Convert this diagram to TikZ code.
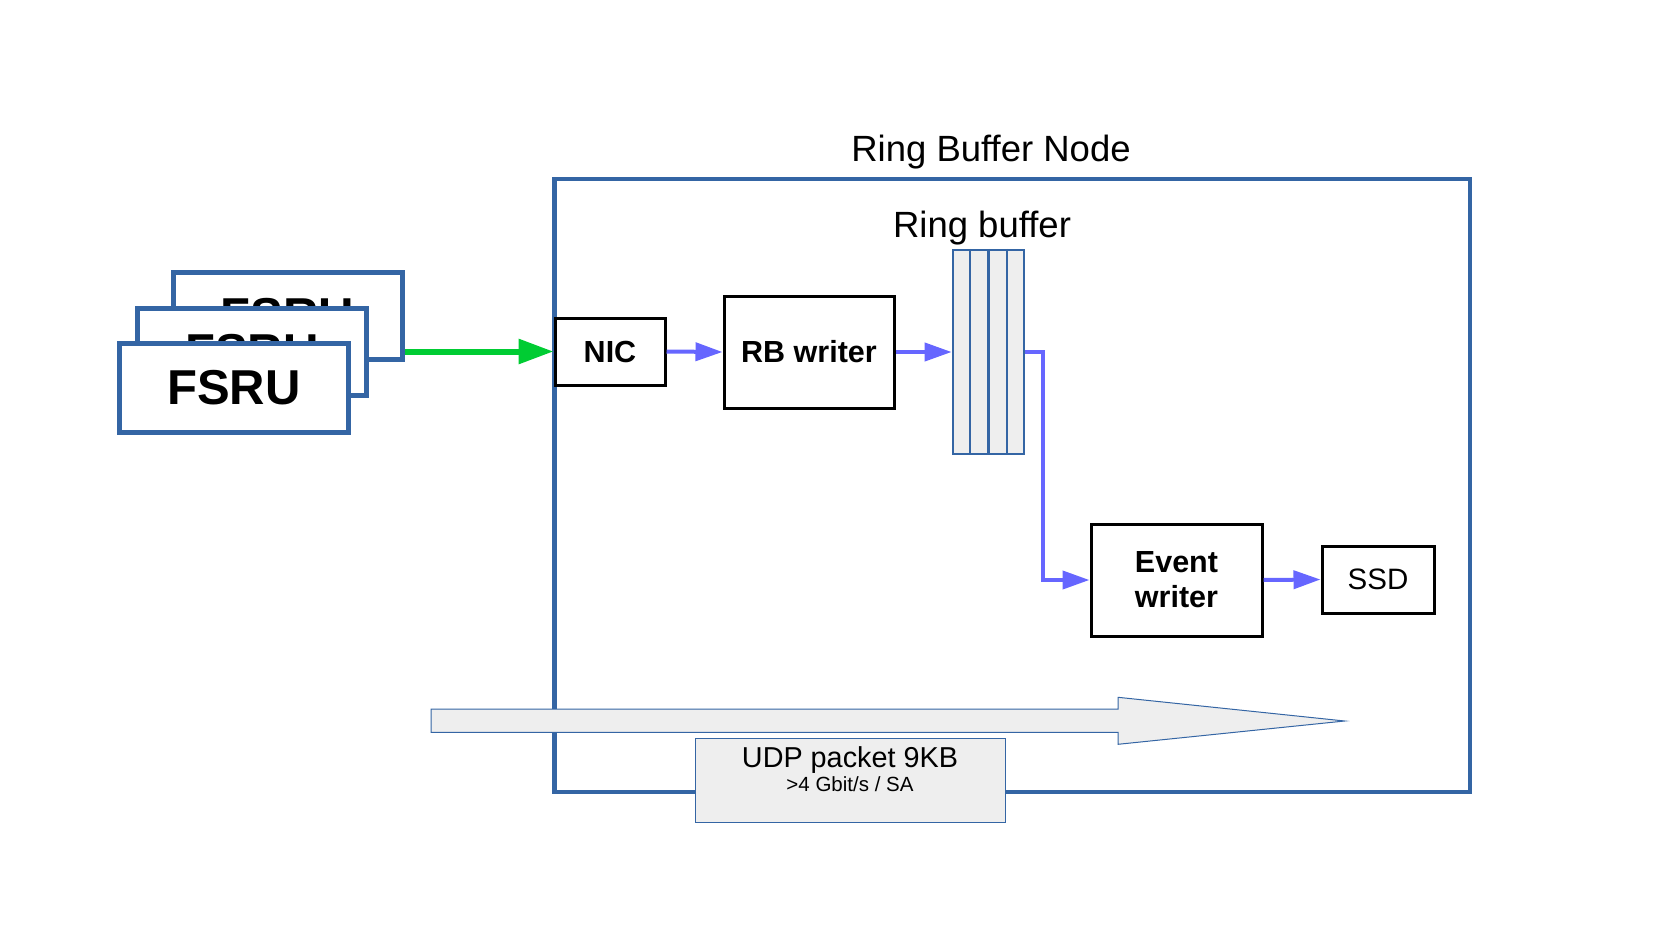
\documentclass[tikz,border=0pt]{standalone}
\usepackage{fontspec}
\setmainfont{Liberation Sans}
\usetikzlibrary{arrows.meta,calc}
\definecolor{lblue}{HTML}{3465A4}
\definecolor{agreen}{HTML}{00CC33}
\definecolor{ablue}{HTML}{6666FF}
\definecolor{lgrey}{HTML}{EEEEEE}
\begin{document}
\begin{tikzpicture}[x=1pt,y=-1pt,
  fsru/.style={draw=lblue,line width=5pt,fill=white,inner sep=0pt,minimum width=229pt,minimum height=87pt,font=\fontsize{49}{55}\selectfont\bfseries},
  blk/.style={draw=black,line width=3pt,fill=white,inner sep=0pt,font=\fontsize{30.5}{35}\selectfont\bfseries,align=center},
  flow/.style={draw=ablue,line width=4pt,-{Triangle[length=27pt,width=18pt]}},
  title/.style={font=\fontsize{36.5}{40}\selectfont,anchor=base,inner sep=0pt},
  greybox/.style={draw=lblue,line width=1pt,fill=lgrey}]
\useasboundingbox (0,0) rectangle (1669,952);
% Ring buffer node frame
\node[draw=lblue,line width=4.5pt,inner sep=0pt,minimum width=915.4pt,minimum height=613.2pt] (rbn) at (1012.3,485.4) {};
\node[title] (rbntitle) at (991,161.5) {Ring Buffer Node};
% FSRU stack
\node[fsru] (fsru3) at (287.5,315.5) {FSRU};
\node[fsru] (fsru2) at (252,351.5) {FSRU};
\node[fsru,minimum height=89pt] (fsru1) at (234,387.5) {FSRU};
% inner blocks
\node[blk,minimum width=110pt,minimum height=67pt] (nic) at (610,351.5) {NIC};
\node[blk,minimum width=170pt,minimum height=112pt] (rbw) at (809,352) {RB writer};
\node[draw=lblue,line width=2.5pt,fill=lgrey,inner sep=0pt,minimum width=71pt,minimum height=204pt] (rb) at (988.4,352) {};
\foreach \f in {0.25,0.5,0.75}
  \draw[lblue,line width=2.5pt] ($(rb.north west)!\f!(rb.north east)$) -- ($(rb.south west)!\f!(rb.south east)$);
\node[title] (rbtitle) at (982,237.5) {Ring buffer};
\node[blk,minimum width=171pt,minimum height=112pt] (ew) at (1176.5,580) {Event\\writer};
\node[blk,font=\fontsize{29.5}{35}\selectfont,minimum width=112pt,minimum height=67pt] (ssd) at (1378,579.5) {SSD};
% connectors
\draw[agreen,line width=6pt,-{Triangle[length=35pt,width=24pt]}] (fsru3.east |- nic.west) -- (nic.west);
\draw[flow] (nic.east) -- (rbw.west);
\draw[flow] (rbw.east) -- (rb.west);
\draw[flow] (rb.east) -- ++(18,0) |- (ew.west);
\draw[flow] (ew.east) -- (ssd.west);
% UDP packet arrow
\draw[greybox] (431,709) -- (1118,709) -- (1118,697.3) -- (1344.7,721) -- (1118,744.3) -- (1118,732.3) -- (431,732.3) -- cycle;
\node[greybox,inner sep=0pt,minimum width=310pt,minimum height=84pt] (udp) at (850,780) {};
\node[font=\fontsize{28.8}{32}\selectfont,anchor=base,inner sep=0pt] (udpa) at (850,767) {UDP packet 9KB};
\node[font=\fontsize{20.5}{24}\selectfont,anchor=base,inner sep=0pt] (udpb) at (850,791) {>4 Gbit/s / SA};
\end{tikzpicture}
\end{document}
